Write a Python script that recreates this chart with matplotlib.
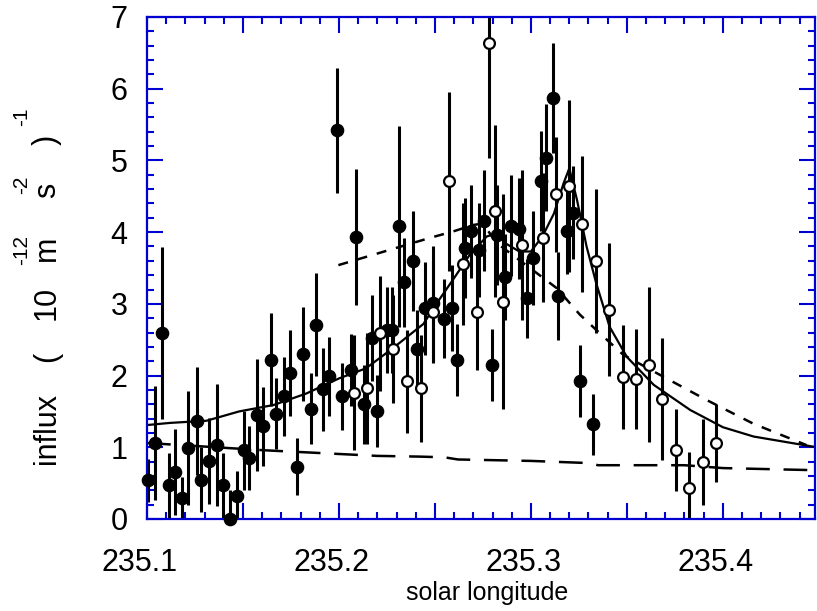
import matplotlib
matplotlib.use("Agg")
import matplotlib.pyplot as plt
from matplotlib.ticker import MultipleLocator, FuncFormatter
from matplotlib.transforms import ScaledTranslation

plt.rcParams['font.family'] = ['Liberation Sans', 'DejaVu Sans']

# filled circles: solar longitude, influx, error
full_x = [235.1007, 235.1042, 235.1076, 235.1116, 235.1146, 235.1184, 235.1215,
          235.1259, 235.1281, 235.1325, 235.1366, 235.1394, 235.1432, 235.1467,
          235.1507, 235.1533, 235.1575, 235.1603, 235.1646, 235.1672, 235.1714,
          235.1745, 235.1781, 235.1811, 235.1853, 235.1880, 235.1918, 235.1950,
          235.1991, 235.2017, 235.2061, 235.2089, 235.2132, 235.2170, 235.2200,
          235.2248, 235.2275, 235.2314, 235.2340, 235.2384, 235.2408, 235.2448,
          235.2488, 235.2547, 235.2587, 235.2613, 235.2656, 235.2686, 235.2731,
          235.2755, 235.2798, 235.2825, 235.2865, 235.2894, 235.2939, 235.2978,
          235.3009, 235.3050, 235.3077, 235.3116, 235.3142, 235.3186, 235.3217,
          235.3255, 235.3324]
full_y = [0.54, 1.06, 2.59, 0.47, 0.65, 0.29, 0.99,
          1.37, 0.55, 0.81, 1.03, 0.47, 0.00, 0.32,
          0.96, 0.85, 1.45, 1.29, 2.22, 1.47, 1.71,
          2.04, 0.73, 2.30, 1.54, 2.71, 1.81, 1.99,
          5.42, 1.71, 2.08, 3.93, 1.60, 2.52, 1.51,
          2.64, 2.64, 4.08, 3.30, 3.60, 2.37, 2.94,
          3.01, 2.79, 2.94, 2.22, 3.78, 4.01, 3.75,
          4.16, 2.15, 3.96, 3.38, 4.09, 4.05, 3.08,
          3.64, 4.71, 5.04, 5.87, 3.11, 4.01, 4.27,
          1.92, 1.32]
full_err = [0.30, 0.80, 1.20, 0.45, 0.60, 0.30, 0.80,
            0.75, 0.45, 0.60, 0.85, 0.45, 0.40, 0.35,
            0.55, 0.45, 0.78, 0.55, 0.65, 0.50, 0.55,
            0.60, 0.40, 0.65, 0.50, 0.72, 0.58, 0.55,
            0.87, 0.47, 0.50, 0.95, 0.55, 0.60, 0.50,
            0.60, 0.60, 1.40, 0.62, 0.70, 0.55, 0.65,
            0.80, 0.55, 0.60, 0.50, 0.70, 0.65, 0.65,
            0.70, 0.50, 0.70, 0.60, 0.70, 0.70, 0.55,
            0.65, 0.70, 0.75, 0.77, 0.62, 0.60, 0.65,
            0.50, 0.43]

# open circles
open_x = [235.2078, 235.2147, 235.2214, 235.2283, 235.2353, 235.2425, 235.2490,
          235.2575, 235.2644, 235.2717, 235.2781, 235.2813, 235.2853, 235.2951,
          235.3064, 235.3130, 235.3199, 235.3267, 235.3339, 235.3408, 235.3478,
          235.3547, 235.3613, 235.3684, 235.3755, 235.3824, 235.3894, 235.3964]
open_y = [1.76, 1.82, 2.59, 2.37, 1.92, 1.82, 2.88,
          4.71, 3.55, 2.88, 6.64, 4.30, 3.03, 3.82,
          3.92, 4.53, 4.64, 4.11, 3.60, 2.92, 1.98,
          1.95, 2.15, 1.67, 0.96, 0.43, 0.80, 1.06]
open_err = [0.80, 0.77, 0.80, 0.75, 0.72, 0.75, 0.70,
            1.25, 0.85, 0.80, 1.60, 1.20, 1.50, 1.05,
            0.90, 0.80, 1.20, 0.95, 1.00, 0.93, 0.72,
            0.70, 1.08, 0.85, 0.57, 0.50, 0.60, 0.55]

# fitted profile (solid)
fit_x = [235.100, 235.112, 235.131, 235.148, 235.166, 235.183, 235.200, 235.214,
         235.228, 235.244, 235.251, 235.260, 235.268, 235.277, 235.282, 235.287,
         235.294, 235.300, 235.306, 235.312, 235.317, 235.320, 235.324, 235.329,
         235.334, 235.341, 235.350, 235.364, 235.383, 235.400, 235.416, 235.449]
fit_y = [1.31, 1.34, 1.37, 1.50, 1.59, 1.75, 1.96, 2.10,
         2.38, 2.72, 3.01, 3.36, 3.68, 3.94, 3.98, 3.84,
         3.73, 3.73, 3.94, 4.26, 4.68, 4.89, 4.45, 3.80,
         3.29, 2.68, 2.26, 1.87, 1.52, 1.28, 1.15, 1.00]

# model profile (short dashes)
model_x = [235.1997, 235.2474, 235.2595, 235.2700, 235.2750, 235.2821, 235.2925,
           235.3030, 235.3134, 235.3255, 235.3359, 235.3481, 235.3672, 235.3915,
           235.4158, 235.4436]
model_y = [3.54, 3.92, 4.01, 4.10, 4.12, 3.85, 3.64,
           3.43, 3.22, 2.85, 2.59, 2.29, 2.01, 1.66,
           1.33, 1.03]

# background (long dashes)
bg_x = [235.100, 235.130, 235.160, 235.175, 235.190, 235.220, 235.242, 235.255,
        235.262, 235.300, 235.330, 235.335, 235.380, 235.400, 235.449]
bg_y = [1.06, 1.01, 0.96, 0.94, 0.92, 0.88, 0.87, 0.86,
        0.83, 0.81, 0.78, 0.75, 0.75, 0.71, 0.68]

BLUE = '#0000d0'

fig = plt.figure(figsize=(8.17, 6.11), dpi=100)
ax = fig.add_axes([147 / 817, 92 / 611, 668 / 817, 502 / 611])

ax.plot(fit_x, fit_y, color='k', lw=1.6)
ax.plot(model_x, model_y, color='k', lw=1.8, dashes=(4, 4))
ax.plot(bg_x, bg_y, color='k', lw=1.8, dashes=(9.5, 5.5))

lo = [y - e for y, e in zip(full_y, full_err)]
hi = [y + e for y, e in zip(full_y, full_err)]
ax.vlines(full_x, lo, hi, color='k', lw=2.2)
lo = [y - e for y, e in zip(open_y, open_err)]
hi = [y + e for y, e in zip(open_y, open_err)]
ax.vlines(open_x, lo, hi, color='k', lw=2.2)

ax.plot(full_x, full_y, 'o', ms=8.8, color='k', clip_on=False, zorder=4)
ax.plot(open_x, open_y, 'o', ms=7.8, mfc='white', mec='k', mew=1.6,
        clip_on=False, zorder=5)

ax.set_xlim(235.1, 235.448)
ax.set_ylim(0, 7)

ax.xaxis.set_major_locator(MultipleLocator(0.05))
ax.xaxis.set_minor_locator(MultipleLocator(0.01))
ax.xaxis.set_major_formatter(
    FuncFormatter(lambda v, p: f"{v:.1f}" if round(v * 20) % 2 == 0 else ""))
ax.yaxis.set_major_locator(MultipleLocator(1))
ax.yaxis.set_minor_locator(MultipleLocator(0.2))
ax.yaxis.set_major_formatter(FuncFormatter(lambda v, p: f"{v:.0f}"))

ax.tick_params(which='both', direction='in', top=True, right=True,
               color=BLUE, width=1.5, labelsize=22)
ax.tick_params(which='major', length=11.5)
ax.tick_params(which='minor', length=5)
ax.tick_params(axis='x', which='major', pad=21)
ax.tick_params(axis='y', which='major', pad=14)
for sp in ax.spines.values():
    sp.set_color(BLUE)
    sp.set_linewidth(1.6)

shift = ScaledTranslation(-7.5 / 100, 0, fig.dpi_scale_trans)
for lbl in ax.get_xticklabels():
    lbl.set_transform(lbl.get_transform() + shift)

fig.text(487 / 817, 1 - 600 / 611, "solar longitude", ha='center',
         va='baseline', fontsize=18)

# y axis title, IDL style with raised exponents
ylab = [("influx", 47, 428, 22), ("(", 47, 357, 22), ("10", 47, 303, 22),
        ("-12", 22, 250, 15), ("m", 47, 248, 22), ("-2", 22, 185, 15),
        ("s", 47, 190, 22), ("-1", 22, 117, 15), (")", 47, 140, 22)]
for txt, px, py, fs in ylab:
    fig.text(px / 817, 1 - py / 611, txt, rotation=90, ha='center',
             va='center', fontsize=fs)

fig.savefig("out.png", dpi=100)
